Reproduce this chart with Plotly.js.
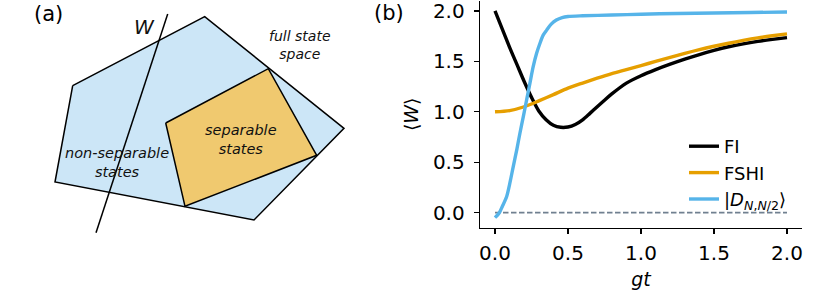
<!DOCTYPE html>
<html>
<head>
<meta charset="utf-8">
<script src="https://cdn.plot.ly/plotly-3.0.1.min.js"></script>
<style>html,body{margin:0;padding:0;background:#fff;}#chart{width:830px;height:290px;}</style>
</head>
<body>
<div id="chart"></div>
<script>
// ---- Panel (a): schematic polygons (figure-pixel coordinates) ----
const fullStateX = [72.7, 204.7, 344, 254, 55, 72.7];
const fullStateY = [85.7, 16.7, 128.3, 220, 182, 85.7];
const separableX = [165.7, 268.3, 316.7, 185, 165.7];
const separableY = [123, 68.7, 155.3, 206.3, 123];
const witnessX = [167.7, 96];
const witnessY = [14, 232.7];

// ---- Panel (b): <W> vs gt ----
const tFI = [0, 0.05, 0.1, 0.15, 0.2, 0.25, 0.3, 0.35, 0.4, 0.45, 0.5, 0.55, 0.6, 0.65, 0.7, 0.75, 0.8, 0.9, 1.0, 1.1, 1.2, 1.3, 1.4, 1.5, 1.6, 1.7, 1.8, 1.9, 2.0];
const wFI = [2.0, 1.82, 1.64, 1.47, 1.30, 1.143, 1.008, 0.921, 0.866, 0.846, 0.849, 0.874, 0.92, 0.984, 1.05, 1.115, 1.177, 1.284, 1.358, 1.418, 1.472, 1.522, 1.568, 1.609, 1.645, 1.674, 1.698, 1.718, 1.736];
const tFSHI = [0, 0.1, 0.2, 0.3, 0.4, 0.5, 0.6, 0.7, 0.8, 0.9, 1.0, 1.1, 1.2, 1.3, 1.4, 1.5, 1.6, 1.7, 1.8, 1.9, 2.0];
const wFSHI = [1.0, 1.012, 1.05, 1.108, 1.17, 1.234, 1.285, 1.333, 1.378, 1.418, 1.458, 1.50, 1.54, 1.58, 1.617, 1.65, 1.68, 1.708, 1.733, 1.754, 1.773];
const tDicke = [0, 0.02, 0.034, 0.05, 0.08, 0.1, 0.125, 0.15, 0.171, 0.195, 0.217, 0.24, 0.262, 0.285, 0.308, 0.33, 0.354, 0.385, 0.42, 0.46, 0.5, 0.6, 0.8, 1.0, 1.25, 1.5, 1.75, 2.0];
const wDicke = [-0.05, -0.02, 0.01, 0.06, 0.16, 0.28, 0.456, 0.63, 0.79, 0.96, 1.12, 1.29, 1.45, 1.58, 1.68, 1.76, 1.81, 1.87, 1.91, 1.935, 1.945, 1.952, 1.96, 1.968, 1.975, 1.98, 1.985, 1.99];
const tZero = [0, 2];
const wZero = [0, 0];
const tickVals = [0, 0.5, 1.0, 1.5, 2.0];
const tickText = ['0.0', '0.5', '1.0', '1.5', '2.0'];
const seriesNames = ['FI', 'FSHI', '|<i>D</i><sub><i>N</i>,<i>N</i>/2</sub>⟩'];

const FONT = 'DejaVu Sans, Verdana, sans-serif';
const W = 830, H = 290;
const px = x => x / W;
const py = y => 1 - y / H;

const traces = [
  {x: fullStateX, y: fullStateY, xaxis: 'x2', yaxis: 'y2', mode: 'lines', fill: 'toself',
   fillcolor: '#cce6f7', line: {color: '#000', width: 1.5}, showlegend: false, hoverinfo: 'skip'},
  {x: separableX, y: separableY, xaxis: 'x2', yaxis: 'y2', mode: 'lines', fill: 'toself',
   fillcolor: '#f0c96f', line: {color: '#000', width: 1.5}, showlegend: false, hoverinfo: 'skip'},
  {x: witnessX, y: witnessY, xaxis: 'x2', yaxis: 'y2', mode: 'lines',
   line: {color: '#000', width: 1.5}, showlegend: false, hoverinfo: 'skip'},
  {x: tZero, y: wZero, mode: 'lines', line: {color: '#708090', width: 1.6, dash: '5.5px,2.5px'}, showlegend: false},
  {x: tFI, y: wFI, mode: 'lines', name: seriesNames[0], line: {color: '#000000', width: 3.4, shape: 'spline', smoothing: 0.8}},
  {x: tFSHI, y: wFSHI, mode: 'lines', name: seriesNames[1], line: {color: '#e69f00', width: 3.4, shape: 'spline', smoothing: 0.8}},
  {x: tDicke, y: wDicke, mode: 'lines', name: seriesNames[2], line: {color: '#56b4e9', width: 3.4, shape: 'spline', smoothing: 0.8}}
];

const tickFont = {family: FONT, size: 20, color: '#000'};
const ann = (text, x, y, size, color) => ({text: text, x: px(x), y: py(y), xref: 'paper', yref: 'paper',
  xanchor: 'center', yanchor: 'middle', showarrow: false, font: {family: FONT, size: size, color: color}});

const layout = {
  width: W, height: H,
  margin: {l: 0, r: 0, t: 0, b: 0, pad: 0},
  paper_bgcolor: '#fff', plot_bgcolor: 'rgba(0,0,0,0)',
  font: {family: FONT, color: '#000'},
  showlegend: true,
  legend: {x: px(684), y: py(128), xanchor: 'left', yanchor: 'top', bgcolor: 'rgba(0,0,0,0)',
           font: {family: FONT, size: 18, color: '#000'}, tracegroupgap: 0},
  xaxis: {domain: [px(480.4), px(801.6)], range: [-0.1, 2.1], showgrid: false, zeroline: false,
          showline: true, linecolor: '#000', linewidth: 1.2, ticks: 'outside', ticklen: 5.5, tickwidth: 1.2,
          tickcolor: '#000', tickvals: tickVals, ticktext: tickText, tickfont: tickFont, anchor: 'y',
          ticklabelstandoff: 2, ticklabeloverflow: 'allow',
          title: {text: '<i>gt</i>', font: {family: FONT, size: 19, color: '#000'}, standoff: 8}},
  yaxis: {domain: [py(227.7), py(0.9)], range: [-0.15, 2.10], showgrid: false, zeroline: false,
          showline: true, linecolor: '#000', linewidth: 1.2, ticks: 'outside', ticklen: 5.5, tickwidth: 1.2,
          tickcolor: '#000', tickvals: tickVals, ticktext: tickText, tickfont: tickFont, anchor: 'x',
          ticklabelstandoff: 5, ticklabeloverflow: 'allow',
          title: {text: '⟨<i>W</i>⟩', font: {family: FONT, size: 19, color: '#000'}, standoff: 9}},
  xaxis2: {domain: [0, px(415)], range: [0, 415], visible: false, fixedrange: true, anchor: 'y2'},
  yaxis2: {domain: [0, 1], range: [290, 0], visible: false, fixedrange: true, anchor: 'x2'},
  annotations: [
    ann('(a)', 48, 14, 21, '#000'),
    ann('(b)', 389, 13, 21, '#000'),
    ann('<i>W</i>', 144, 27, 20, '#111'),
    ann('<i>full state<br>space</i>', 300, 44.5, 14, '#111'),
    ann('<i>separable<br>states</i>', 241, 139, 14.5, '#111'),
    ann('<i>non-separable<br>states</i>', 116.7, 162.5, 14.5, '#111')
  ]
};

Plotly.newPlot('chart', traces, layout, {displayModeBar: false, staticPlot: true});
</script>
</body>
</html>
